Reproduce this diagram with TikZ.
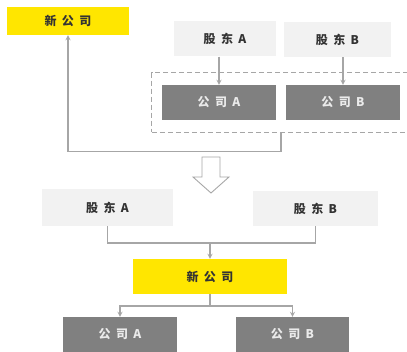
\documentclass[tikz,border=0pt]{standalone}
\usepackage{fontspec}
\newfontfamily\cjk[LetterSpace=45]{Noto Sans CJK SC}
\usepackage{tikz}
\usetikzlibrary{positioning,
  fit
}
\definecolor{newyellow}{HTML}{FFE600}
\definecolor{holdgray}{HTML}{F2F2F2}
\definecolor{firmgray}{HTML}{808080}
\definecolor{linegray}{HTML}{A6A6A6}
\definecolor{textgray}{HTML}{333333}

\begin{document}
\begin{tikzpicture}[x=1pt, y=-1pt, >=stealth,
  font=\cjk\bfseries\fontsize{12}{14}\selectfont,
  box/.style={minimum height=35pt, inner sep=0pt},
  newco/.style={box, fill=newyellow, text=textgray},
  holder/.style={box, fill=holdgray, text=textgray},
  firm/.style={box, fill=firmgray, text=white!92!black},
  link/.style={draw=linegray, line width=1.2pt}]
  \useasboundingbox (0,0) rectangle (407,352) ;

  % before
  \node[newco, minimum width=122pt, minimum height=28pt] (nc1) at (68,21)    {新公司} ;
  \node[holder, minimum width=102pt] (sa1) at (225,39)    {股东A} ;
  \node[holder, minimum width=107pt] (sb1) at (337.5,39.5) {股东B} ;
  \node[firm, minimum width=114pt]   (ca1) at (219,102.5) {公司A} ;
  \node[firm, minimum width=114pt]   (cb1) at (343,102.5) {公司B} ;
  \node[draw=linegray, dashed, dash pattern=on 5pt off 3pt, line width=0.9pt,
        inner xsep=10pt, inner ysep=12pt, fit=(ca1) (cb1)] (grp) {} ;

  \draw[link, ->] (sa1.south -| ca1.north) -- (ca1.north) ;
  \draw[link, ->] (sb1.south -| cb1.north) -- (cb1.north) ;
  \draw[link, ->] (grp.south) -- ++(0,19) -| (nc1.south) ;

  % hollow arrow
  \draw[linegray, line width=0.9pt, fill=white]
    (202,157) -- (220,157) -- (220,177) -- (229,177) -- (211,193)
    -- (193,177) -- (202,177) -- cycle ;

  % after
  \node[holder, minimum width=131pt, minimum height=37pt] (sa2) at (107.5,207.5) {股东A} ;
  \node[holder, minimum width=125pt] (sb2) at (315.5,208.5) {股东B} ;
  \node[newco, minimum width=154pt]  (nc2) at (210,276.5) {新公司} ;
  \node[firm, minimum width=114pt]   (ca2) at (120,334.5) {公司A} ;
  \node[firm, minimum width=113pt]   (cb2) at (292.5,334.5) {公司B} ;
  \coordinate (j1) at (210,243) ;
  \coordinate (j2) at (210,306) ;

  \draw[link] (sa2.south) |- (j1) -| (sb2.south) ;
  \draw[link, ->] (j1) -- (nc2.north) ;
  \draw[link] (nc2.south) -- (j2) ;
  \draw[link, ->] (j2) -| (ca2.north) ;
  \draw[link, ->] (j2) -| (cb2.north) ;

\end{tikzpicture}
\end{document}
